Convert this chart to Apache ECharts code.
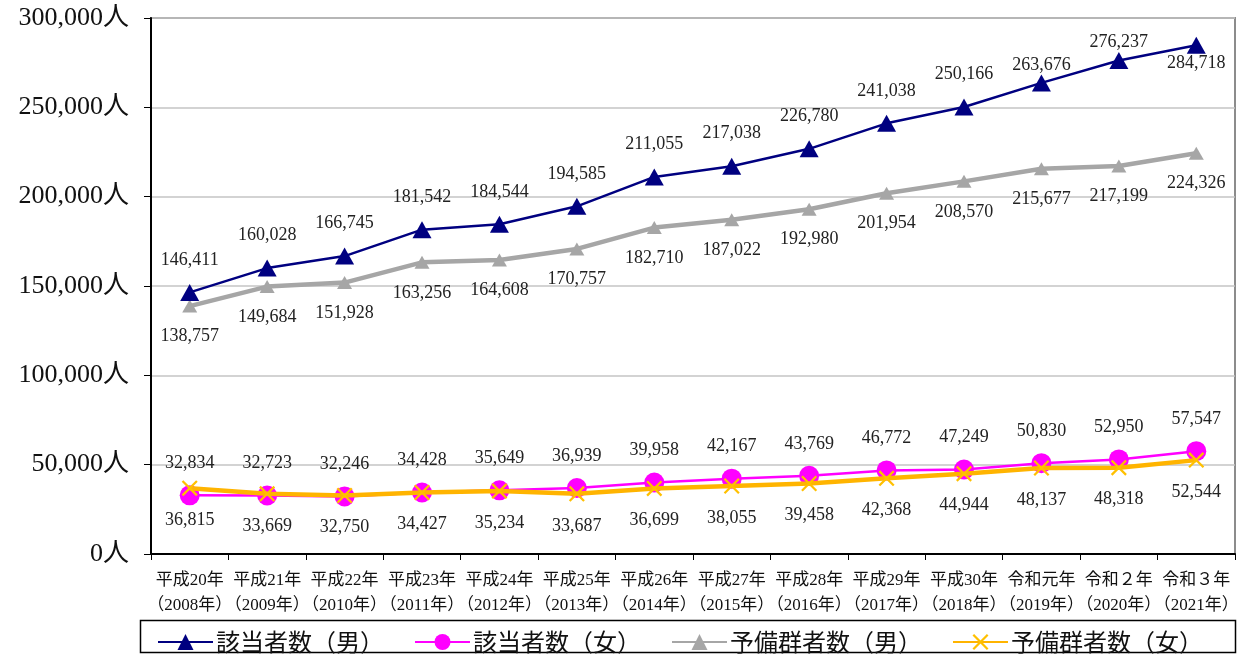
<!DOCTYPE html>
<html>
<head>
<meta charset="utf-8">
<script src="https://cdn.jsdelivr.net/npm/echarts@6/dist/echarts.min.js"></script>
<style>
  html, body { margin: 0; padding: 0; background: #fff; }
  #chart { width: 1243px; height: 655px; }
</style>
</head>
<body>
<div id="chart"></div>
<script>
// Fiscal years (Japanese era and Western year)
const eraLabels = ['平成20年', '平成21年', '平成22年', '平成23年', '平成24年', '平成25年', '平成26年',
  '平成27年', '平成28年', '平成29年', '平成30年', '令和元年', '令和２年', '令和３年'];
const yearLabels = ['2008年', '2009年', '2010年', '2011年', '2012年', '2013年', '2014年',
  '2015年', '2016年', '2017年', '2018年', '2019年', '2020年', '2021年'];

// Counts (persons)
const affectedMale = [146411, 160028, 166745, 181542, 184544, 194585, 211055, 217038, 226780, 241038, 250166, 263676, 276237, 284718];
const affectedFemale = [32834, 32723, 32246, 34428, 35649, 36939, 39958, 42167, 43769, 46772, 47249, 50830, 52950, 57547];
const reserveMale = [138757, 149684, 151928, 163256, 164608, 170757, 182710, 187022, 192980, 201954, 208570, 215677, 217199, 224326];
const reserveFemale = [36815, 33669, 32750, 34427, 35234, 33687, 36699, 38055, 39458, 42368, 44944, 48137, 48318, 52544];

const seriesNames = ['該当者数（男）', '該当者数（女）', '予備群者数（男）', '予備群者数（女）'];

const categories = eraLabels.map((e, i) => e + '\n（' + yearLabels[i] + '）');

const FONT = '"Liberation Serif", "Noto Sans CJK JP", serif';
const fmt = v => v.toLocaleString('en-US');

const crossPath = 'path://M0,1 L1,0 L10,9 L9,10 Z M9,0 L10,1 L1,10 L0,9 Z';

// per-point label tweaks for the crowded top-right points of the male series
function maleData() {
  return affectedMale.map((v, i) => {
    if (i === 11) return { value: v, label: { distance: 0 } };
    if (i === 12) return { value: v, label: { distance: 1 } };
    if (i === 13) return { value: v, label: { position: 'bottom', distance: 0 } };
    return v;
  });
}

const labelBase = {
  show: true,
  color: '#222',
  fontFamily: FONT,
  fontSize: 18,
  formatter: p => fmt(p.value)
};

const chart = echarts.init(document.getElementById('chart'), null, { renderer: 'canvas' });

chart.setOption({
  animation: false,
  backgroundColor: '#fff',
  grid: {
    left: 151, right: 8, top: 18, bottom: 101,
    show: true, borderColor: '#8c8c8c', borderWidth: 2, backgroundColor: 'transparent'
  },
  legend: {
    left: 152, top: 625,
    itemWidth: 55, itemHeight: 20, itemGap: 30,
    textStyle: { fontFamily: '"Noto Sans CJK JP", sans-serif', fontSize: 24, color: '#111', padding: [0, 0, 0, -2] },
    data: seriesNames
  },
  graphic: [{
    type: 'rect',
    shape: { x: 140.5, y: 620.5, width: 1095, height: 32 },
    style: { fill: 'none', stroke: '#000', lineWidth: 1.5 },
    silent: true
  }],
  xAxis: {
    type: 'category',
    data: categories,
    boundaryGap: true,
    axisLine: { lineStyle: { color: '#000', width: 2 } },
    axisTick: { show: true, length: 6, lineStyle: { color: '#000', width: 1 } },
    axisLabel: {
      interval: 0, margin: 14, color: '#111',
      fontFamily: FONT, fontSize: 17, lineHeight: 25
    },
    splitLine: { show: false }
  },
  yAxis: {
    type: 'value',
    min: 0, max: 300000, interval: 50000,
    axisLine: { show: true, lineStyle: { color: '#000', width: 2 } },
    axisTick: { show: true, length: 7, lineStyle: { color: '#000', width: 1 } },
    axisLabel: {
      margin: 22, color: '#111', fontFamily: FONT, fontSize: 26,
      formatter: v => fmt(v) + '人'
    },
    splitLine: { show: true, lineStyle: { color: '#c4c4c4', width: 1.5 } }
  },
  series: [
    {
      name: seriesNames[0], type: 'line', data: maleData(),
      symbol: 'triangle', symbolSize: [19, 17],
      itemStyle: { color: '#000080' },
      lineStyle: { color: '#000080', width: 2.5 },
      label: Object.assign({}, labelBase, { position: 'top', distance: 15 }),
      z: 4
    },
    {
      name: seriesNames[1], type: 'line', data: affectedFemale,
      symbol: 'circle', symbolSize: 20,
      itemStyle: { color: '#ff00ff' },
      lineStyle: { color: '#ff00ff', width: 2.5 },
      label: Object.assign({}, labelBase, { position: 'top', distance: 13 }),
      z: 2
    },
    {
      name: seriesNames[2], type: 'line', data: reserveMale,
      symbol: 'triangle', symbolSize: [15, 13],
      itemStyle: { color: '#a6a6a6' },
      lineStyle: { color: '#a6a6a6', width: 4.5 },
      label: Object.assign({}, labelBase, { position: 'bottom', distance: 15 }),
      z: 3
    },
    {
      name: seriesNames[3], type: 'line', data: reserveFemale,
      symbol: crossPath, symbolSize: 16,
      itemStyle: { color: '#ffc000' },
      lineStyle: { color: '#ffb400', width: 4.5 },
      label: Object.assign({}, labelBase, { position: 'bottom', distance: 15 }),
      z: 3
    }
  ]
});
</script>
</body>
</html>
